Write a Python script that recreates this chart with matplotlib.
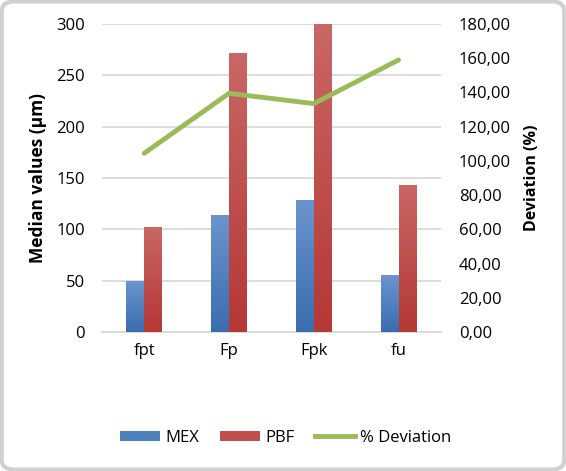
import numpy as np
import matplotlib
matplotlib.use("Agg")
import matplotlib.pyplot as plt
from matplotlib.patches import FancyBboxPatch, Patch
from matplotlib.lines import Line2D
from matplotlib.colors import LinearSegmentedColormap
from matplotlib.ticker import FuncFormatter

# ---------------------------------------------------------------------------
# Data
# ---------------------------------------------------------------------------
categories = ["fpt", "Fp", "Fpk", "fu"]
mex = [49, 113, 128, 55]
pbf = [102, 271, 299, 143]
deviation = [104.5, 139.5, 133.5, 159.0]

plt.rcParams["font.family"] = ["Open Sans", "DejaVu Sans"]

fig = plt.figure(figsize=(5.66, 4.71), dpi=100)

# rounded chart border
border = FancyBboxPatch((0.003, 0.003), 0.994, 0.994,
                        boxstyle="round,pad=0,rounding_size=0.022",
                        transform=fig.transFigure, facecolor="white",
                        edgecolor="#d0d0d0", linewidth=3, zorder=-10)
fig.patches.append(border)

ax = fig.add_axes([0.180, 0.295, 0.599, 0.654])
ax.set_facecolor("none")

x = np.arange(len(categories))
bw = 0.212

blue_cmap = LinearSegmentedColormap.from_list("b", ["#3a6db0", "#6b94cd"])
red_cmap = LinearSegmentedColormap.from_list("r", ["#b53836", "#c96765"])
grad = np.linspace(0, 1, 100).reshape(-1, 1)

def gradient_bars(xs, heights, cmap):
    for xi, h in zip(xs, heights):
        ax.imshow(grad, cmap=cmap, origin="lower", aspect="auto",
                  extent=(xi - bw / 2, xi + bw / 2, 0, h), zorder=3,
                  interpolation="bilinear")

gradient_bars(x - bw / 2, mex, blue_cmap)
gradient_bars(x + bw / 2, pbf, red_cmap)

ax.set_xlim(-0.5, len(categories) - 0.5)
ax.set_ylim(0, 300)
ax.set_yticks(np.arange(0, 301, 50))
ax.set_xticks(x)
ax.set_xticklabels(categories)
ax.grid(axis="y", color="#d9d9d9", linewidth=1.3, zorder=0)
ax.set_axisbelow(True)
for s in ["top", "right", "left"]:
    ax.spines[s].set_visible(False)
ax.spines["bottom"].set_color("#d9d9d9")
ax.spines["bottom"].set_linewidth(1.3)
ax.tick_params(axis="both", length=0, labelsize=12, colors="black")
ax.tick_params(axis="x", pad=8)
ax.tick_params(axis="y", pad=12)
ax.set_ylabel("Median values (µm)", fontsize=12.5, fontweight="bold", labelpad=7)

ax2 = ax.twinx()
ax2.plot(x, deviation, color="#9bbb59", linewidth=3.5, zorder=5,
         solid_capstyle="round")
ax2.set_ylim(0, 180)
ax2.set_yticks(np.arange(0, 181, 20))
ax2.yaxis.set_major_formatter(FuncFormatter(lambda v, p: f"{v:.2f}".replace(".", ",")))
for s in ["top", "right", "left", "bottom"]:
    ax2.spines[s].set_visible(False)
ax2.tick_params(axis="y", length=0, labelsize=12, pad=13)
ax2.set_ylabel("Deviation (%)", fontsize=11.5, fontweight="bold", labelpad=9)

handles = [Patch(facecolor="#4f81bd", edgecolor="none"),
           Patch(facecolor="#c0504d", edgecolor="none"),
           Line2D([0], [0], color="#9bbb59", linewidth=3.5)]
fig.legend(handles, ["MEX", "PBF", "% Deviation"], loc="center",
           bbox_to_anchor=(0.505, 0.07), ncol=3, frameon=False, fontsize=12,
           handlelength=2.4, handleheight=0.6, handletextpad=0.3,
           columnspacing=1.25)

fig.savefig("out.png", dpi=100)
